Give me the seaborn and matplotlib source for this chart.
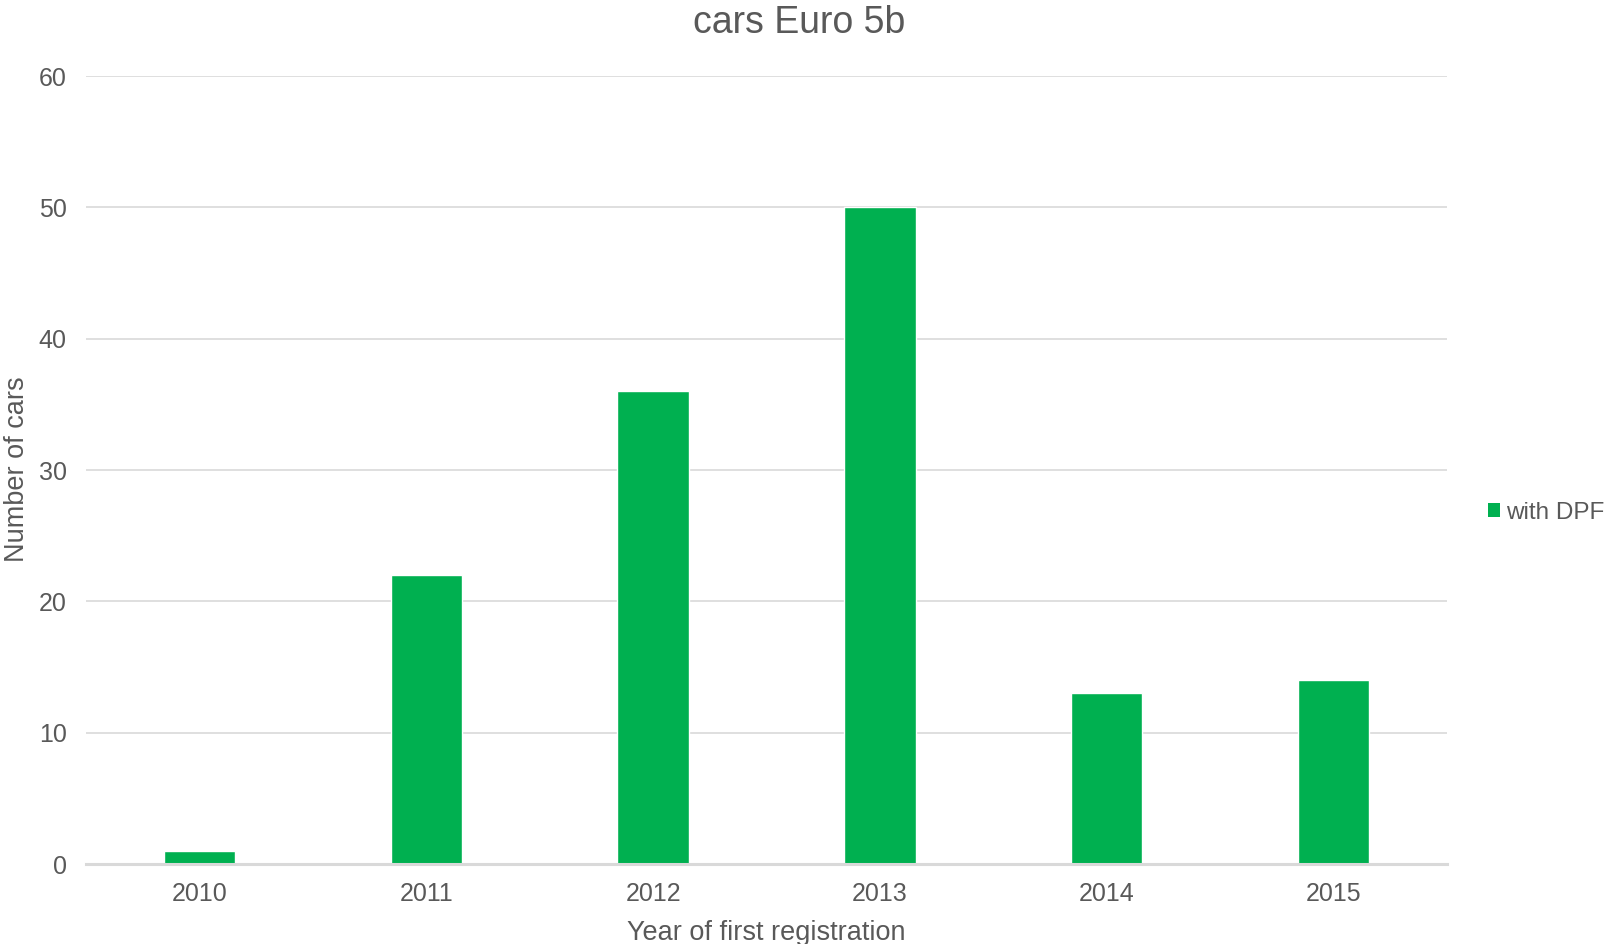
import matplotlib
matplotlib.use("Agg")
import matplotlib.pyplot as plt
import seaborn as sns
import pandas as pd
from matplotlib.patches import Patch

years = ["2010", "2011", "2012", "2013", "2014", "2015"]
with_dpf = [1, 22, 36, 50, 13, 14]
series_name = "with DPF"

df = pd.DataFrame({"year": years, "cars": with_dpf, "series": series_name})

sns.set_style("white")
plt.rcParams["font.family"] = ["Liberation Sans", "DejaVu Sans"]

text_color = "#595959"
grid_color = "#d9d9d9"
bar_color = "#00b050"

fig = plt.figure(figsize=(16.05, 9.44), dpi=100)
ax = fig.add_axes([86 / 1605, 1 - 864 / 944, (1447 - 86) / 1605, (864 - 76) / 944])

sns.barplot(data=df, x="year", y="cars", hue="series", palette=[bar_color],
            width=0.315, dodge=False, legend=False, ax=ax, saturation=1)

ax.set_ylim(0, 60)
ax.set_xlim(-0.5, len(years) - 0.5)
ax.set_yticks(range(0, 61, 10))
ax.yaxis.grid(True, color=grid_color, linewidth=1.2)
ax.set_axisbelow(True)
for s in ["left", "right", "top"]:
    ax.spines[s].set_visible(False)
ax.spines["bottom"].set_color(grid_color)
ax.spines["bottom"].set_linewidth(2.2)
ax.tick_params(axis="both", length=0, labelsize=18, colors=text_color)
ax.tick_params(axis="x", pad=13)
ax.tick_params(axis="y", pad=14)

ax.set_xlabel("Year of first registration", fontsize=19.5, color=text_color, labelpad=10)
ax.set_ylabel("")
fig.text(17 / 1605, 1 - 469 / 944, "Number of cars", rotation=90, fontsize=19.5,
         color=text_color, ha="center", va="center")

fig.suptitle("cars Euro 5b", fontsize=27, color=text_color, x=0.498, y=1 - 23 / 944, va="center")

handles = [Patch(facecolor=bar_color, edgecolor="none", label=series_name)]
fig.legend(handles=handles, loc="center left", bbox_to_anchor=(1488 / 1605, 1 - 513 / 944),
           frameon=False, fontsize=17.5, handlelength=0.5, handleheight=0.5,
           handletextpad=0.25, labelcolor=text_color, borderaxespad=0, borderpad=0)

fig.savefig("out.png", dpi=100)
